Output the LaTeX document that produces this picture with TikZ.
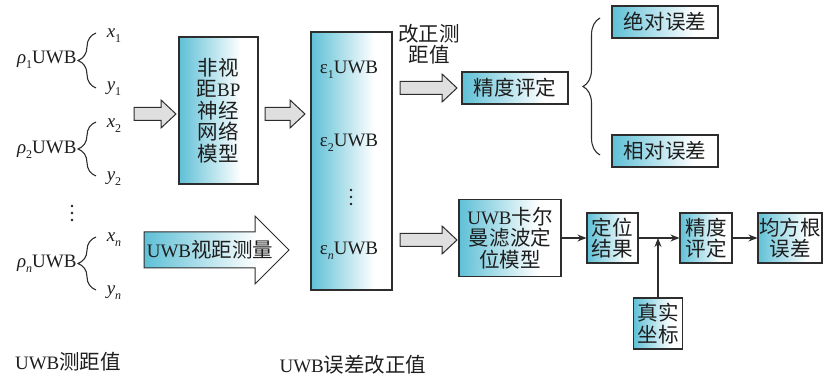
\documentclass[tikz,border=0pt]{standalone}
\usepackage{fontspec}
\setmainfont{Liberation Serif}
\newfontfamily\cjk[Scale=1.08]{Noto Sans CJK SC}
\usetikzlibrary{decorations.pathreplacing,calc,arrows.meta}
\definecolor{cy}{RGB}{95,192,214}
\definecolor{ln}{RGB}{45,45,45}
\definecolor{txt}{RGB}{30,30,30}
\pgfdeclarehorizontalshading{cyshade}{100bp}{color(0bp)=(cy); color(25bp)=(cy); color(64bp)=(white); color(100bp)=(white)}
\newcommand\fatarrow[3]{% x1, x2, yc
  \draw[garrow] (#1,#3-6.5) -- (#2-15,#3-6.5) -- (#2-15,#3-14) -- (#2,#3) -- (#2-15,#3+14) -- (#2-15,#3+6.5) -- (#1,#3+6.5) -- cycle;}
\newcommand\sbs[1]{\raisebox{-5pt}{\fontsize{12}{12}\selectfont #1}}
\begin{document}
\begin{tikzpicture}[x=1pt,y=-1pt,
  every node/.style={text=txt, font=\fontsize{19}{21.5}\selectfont},
  box/.style={draw=ln, line width=1.1pt, shading=cyshade, align=center, inner sep=0pt},
  garrow/.style={draw=ln, line width=1pt, fill=gray!25, line join=miter},
  conn/.style={draw=ln, line width=1.1pt, -{Stealth[length=9pt,width=7pt]}},
  br/.style={draw=ln, line width=1.1pt, decorate, decoration={brace, amplitude=#1}},
  dot/.style={fill=txt, circle, inner sep=0pt, minimum size=2.8pt}]
\useasboundingbox (0,0) rectangle (825,382);

% left inputs
\node[anchor=east] (r1) at (80,60) {\textit{ρ}\sbs{1}UWB};
\draw[br=18] (96,88) -- (96,33);
\node (x1) at (114,36) {\textit{x}\sbs{1}};
\node (y1) at (114,89) {\textit{y}\sbs{1}};

\node[anchor=east] (r2) at (80,150) {\textit{ρ}\sbs{2}UWB};
\draw[br=18] (96,176) -- (96,122);
\node (x2) at (114,126) {\textit{x}\sbs{2}};
\node (y2) at (114,179) {\textit{y}\sbs{2}};

\node[dot] (vd1) at (72,206) {};
\node[dot] (vd2) at (72,213) {};
\node[dot] (vd3) at (72,220) {};

\node[anchor=east] (rn) at (80,264) {\textit{ρ}\sbs{\textit{n}}UWB};
\draw[br=18] (96,290) -- (96,237);
\node (xn) at (114,240) {\textit{x}\sbs{\textit{n}}};
\node (yn) at (114,293) {\textit{y}\sbs{\textit{n}}};

\node (lab1) at (68,362) {UWB{\cjk 测距值}};
\node (lab2) at (353,365) {UWB{\cjk 误差改正值}};

% NLOS BP box
\node[box, minimum width=79pt, minimum height=147pt] (nlos) at (218.5,110.5)
  {{\cjk 非视}\\{\cjk 距}BP\\{\cjk 神经}\\{\cjk 网络}\\{\cjk 模型}};
\fatarrow{134}{176}{114}
\fatarrow{265}{305}{114}

% LOS big arrow
\draw[draw=ln, line width=1pt, shading=cyshade] (144,232) -- (255,232) -- (255,216) -- (289,250) -- (255,284) -- (255,268) -- (144,268) -- cycle;
\node (los) at (210,250) {UWB{\cjk 视距测量}};

% error column
\node[box, minimum width=81pt, minimum height=258pt] (eps) at (351.5,161) {};
\node (e1) at (349,70) {ε\sbs{1}UWB};
\node (e2) at (349,143) {ε\sbs{2}UWB};
\node[dot] (ed1) at (351,190) {};
\node[dot] (ed2) at (351,197) {};
\node[dot] (ed3) at (351,204) {};
\node (en) at (349,251) {ε\sbs{\textit{n}}UWB};

\node[align=center] (corr) at (429,44) {{\cjk 改正测}\\{\cjk 距值}};
\fatarrow{400}{457}{88}
\fatarrow{400}{457}{240}

% accuracy top
\node[box, minimum width=106pt, minimum height=32pt] (acc1) at (515,88) {\cjk 精度评定};
\draw[br=17] (600,155) -- (600,18);
\node[box, minimum width=106pt, minimum height=32pt] (abs) at (665,22) {\cjk 绝对误差};
\node[box, minimum width=106pt, minimum height=32pt] (rel) at (665,151) {\cjk 相对误差};

% bottom chain
\node[box, minimum width=102pt, minimum height=77pt] (kf) at (510,238)
  {UWB{\cjk 卡尔}\\{\cjk 曼滤波定}\\{\cjk 位模型}};
\node[box, minimum width=51pt, minimum height=50pt] (pos) at (612.5,238) {{\cjk 定位}\\{\cjk 结果}};
\node[box, minimum width=52pt, minimum height=50pt] (acc2) at (706,238) {{\cjk 精度}\\{\cjk 评定}};
\node[box, minimum width=64pt, minimum height=50pt] (rmse) at (790,238) {{\cjk 均方根}\\{\cjk 误差}};
\node[box, minimum width=49pt, minimum height=51pt] (truth) at (658,323.5) {{\cjk 真实}\\{\cjk 坐标}};

\draw[conn] (kf.east) -- (pos.west);
\draw[conn] (pos.east) -- (acc2.west);
\draw[conn] (acc2.east) -- (rmse.west);
\coordinate (j) at (truth.north |- pos.east);
\draw[conn] (truth.north) -- (j);
\end{tikzpicture}
\end{document}
